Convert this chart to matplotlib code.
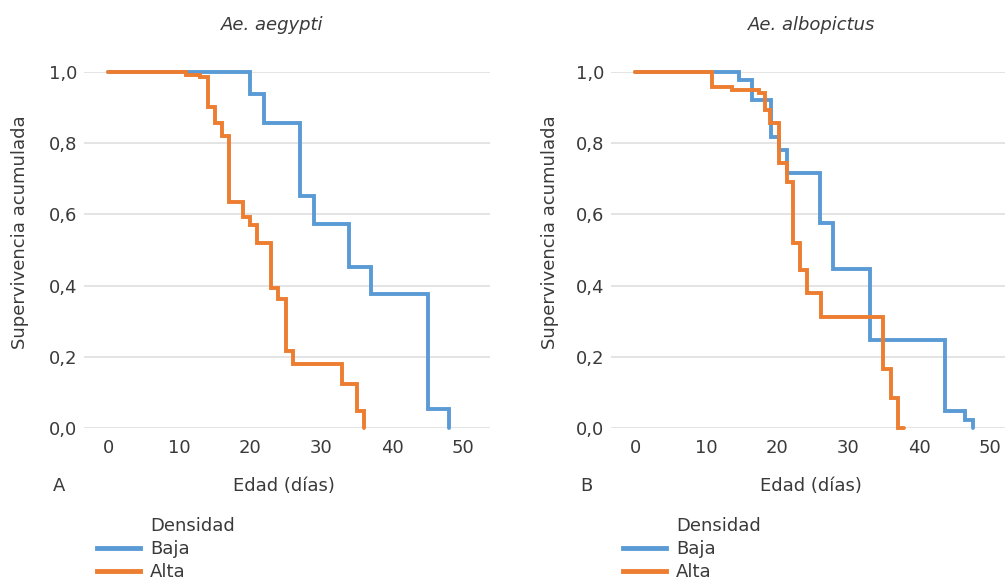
import matplotlib
matplotlib.use("Agg")
import matplotlib.pyplot as plt
from matplotlib.lines import Line2D
from matplotlib.ticker import FuncFormatter

# Ae. aegypti (panel A)
aeg_baja_dias = [0, 20, 22, 27, 29, 34, 37, 45, 48]
aeg_baja_surv = [1.0, 0.937, 0.855, 0.651, 0.572, 0.451, 0.376, 0.053, 0.0]
aeg_alta_dias = [0, 11, 13, 14, 15, 16, 17, 19, 20, 21, 23, 24, 25, 26, 33, 35, 36]
aeg_alta_surv = [1.0, 0.992, 0.984, 0.902, 0.855, 0.820, 0.635, 0.593, 0.570, 0.519,
                 0.394, 0.362, 0.218, 0.180, 0.125, 0.049, 0.0]

# Ae. albopictus (panel B)
alb_baja_dias = [0, 14.6, 16.4, 19.2, 20.2, 21.4, 26.1, 27.9, 33.1, 43.7, 46.5, 47.6]
alb_baja_surv = [1.0, 0.977, 0.921, 0.818, 0.780, 0.715, 0.575, 0.447, 0.248, 0.049, 0.023, 0.0]
alb_alta_dias = [0, 10.8, 13.6, 17.4, 18.3, 19.0, 20.2, 21.4, 22.3, 23.2, 24.2, 26.2,
                 34.9, 36.1, 37.0, 37.9]
alb_alta_surv = [1.0, 0.958, 0.949, 0.940, 0.893, 0.855, 0.743, 0.692, 0.520, 0.443,
                 0.380, 0.312, 0.167, 0.086, 0.0, 0.0]

titulos = ["Ae. aegypti", "Ae. albopictus"]
letras = ["A", "B"]
x_ticks = [0, 10, 20, 30, 40, 50]
y_ticks = [0.0, 0.2, 0.4, 0.6, 0.8, 1.0]

AZUL = "#5B9BD5"
NARANJA = "#ED7D31"
GRIS = "#3A3A3A"
FS = 13

plt.rcParams["font.family"] = "DejaVu Sans"

fig = plt.figure(figsize=(10.05, 5.8), dpi=100)

paneles = [
    (aeg_baja_dias, aeg_baja_surv, aeg_alta_dias, aeg_alta_surv),
    (alb_baja_dias, alb_baja_surv, alb_alta_dias, alb_alta_surv),
]
lefts = [84 / 1005, 611 / 1005]
# x centre of title / ylabel / letter / xlabel (pixels)
title_x = [272, 812]
ylab_x = [20, 550]
letra_x = [59, 586]
xlab_x = [284, 811]
leg_x = [97, 623]

for i, (bd, bs, ad, asv) in enumerate(paneles):
    ax = fig.add_axes([lefts[i], 0.2616, 0.404, 0.6148])
    ax.plot(bd, bs, drawstyle="steps-post", color=AZUL, lw=2.8, clip_on=False,
            solid_joinstyle="miter", solid_capstyle="round", zorder=3)
    ax.plot(ad, asv, drawstyle="steps-post", color=NARANJA, lw=2.8, clip_on=False,
            solid_joinstyle="miter", solid_capstyle="round", zorder=4)
    ax.set_xlim(-3.4, 53.8)
    ax.set_ylim(0, 1.0)
    ax.set_xticks(x_ticks)
    ax.set_yticks(y_ticks)
    ax.yaxis.set_major_formatter(FuncFormatter(lambda v, p: "{:.1f}".format(v).replace(".", ",")))
    ax.tick_params(length=0, labelsize=FS, labelcolor=GRIS)
    ax.tick_params(axis="x", pad=8)
    ax.tick_params(axis="y", pad=5)
    for s in ax.spines.values():
        s.set_visible(False)
    ax.grid(axis="y", color="#DCDCDC", lw=1.1)
    ax.set_axisbelow(True)

    fig.text(title_x[i] / 1005, 1 - 25 / 580, titulos[i], style="italic", fontsize=FS,
             color=GRIS, ha="center", va="center")
    fig.text(ylab_x[i] / 1005, 1 - 232 / 580, "Supervivencia acumulada", rotation=90,
             fontsize=FS, color=GRIS, ha="center", va="center")
    fig.text(letra_x[i] / 1005, 1 - 486 / 580, letras[i], fontsize=FS, color=GRIS,
             ha="center", va="center")
    fig.text(xlab_x[i] / 1005, 1 - 486 / 580, "Edad (días)", fontsize=FS, color=GRIS,
             ha="center", va="center")

    handles = [Line2D([], [], alpha=0),
               Line2D([], [], color=AZUL, lw=3.5),
               Line2D([], [], color=NARANJA, lw=3.5)]
    fig.legend(handles, ["Densidad", "Baja", "Alta"], loc="upper left",
               bbox_to_anchor=(leg_x[i] / 1005, 1 - 517 / 580), frameon=False,
               fontsize=FS, labelcolor=GRIS, handlelength=2.4, handletextpad=0.55,
               labelspacing=0.28, borderpad=0, borderaxespad=0)

fig.savefig("out.png", dpi=100)
